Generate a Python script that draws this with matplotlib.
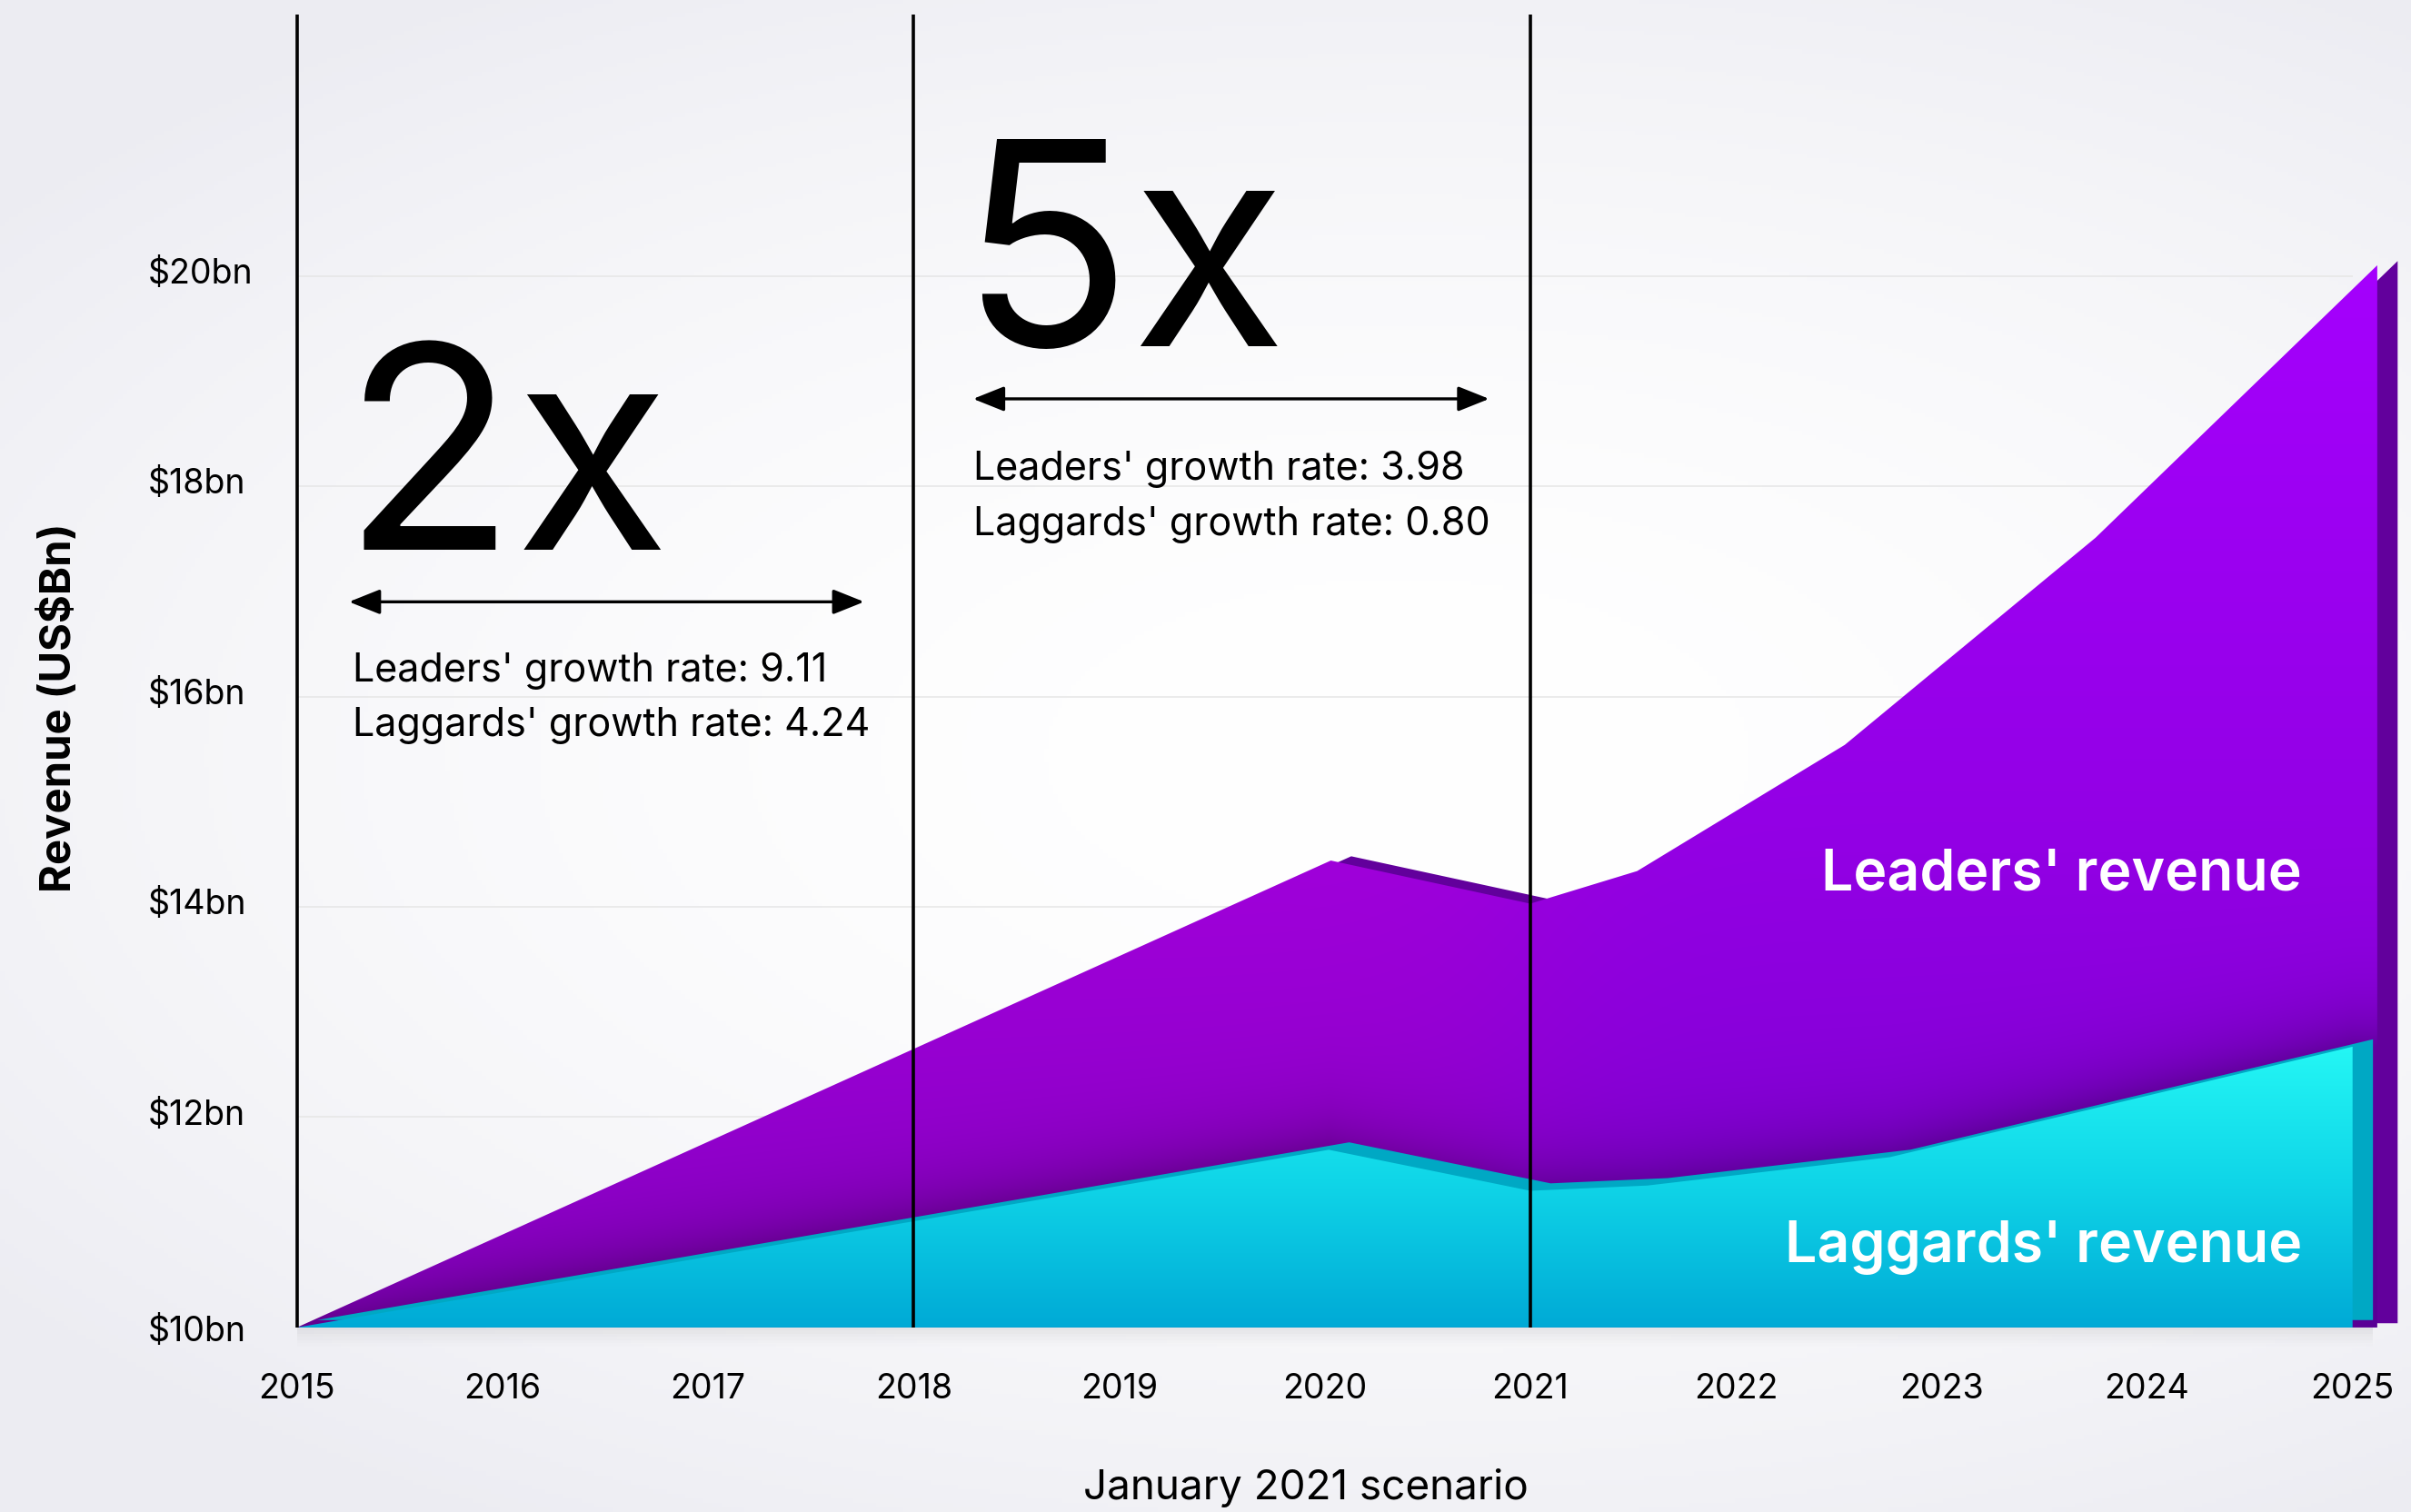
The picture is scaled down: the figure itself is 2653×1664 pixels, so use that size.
import numpy as np
import matplotlib
matplotlib.use('Agg')
import matplotlib.pyplot as plt
from matplotlib.transforms import ScaledTranslation

plt.rcParams['font.family'] = ['Inter', 'DejaVu Sans']

# ── data ──────────────────────────────
years = [2015, 2016, 2017, 2018, 2019, 2020, 2021, 2022, 2023, 2024, 2025]
y_ticks = [10, 12, 14, 16, 18, 20]
y_tick_labels = [r'\$10bn', r'\$12bn', r'\$14bn', r'\$16bn', r'\$18bn', r'\$20bn']

# top edge of each area (kinks as drawn in the original graphic)
leaders_x = [2015, 2020.03, 2021.0, 2021.52, 2022.53, 2023.75, 2025.12]
leaders_rev = [10.0, 14.44, 14.03, 14.34, 15.54, 17.51, 20.10]
laggards_x = [2015, 2020.02, 2021.0, 2021.57, 2022.75, 2025.0]
laggards_rev = [10.0, 11.69, 11.30, 11.35, 11.62, 12.67]

phase_lines = [2015, 2018, 2021]
BASE = 10
# ──────────────────────────────────────

fig = plt.figure(figsize=(26.53, 16.65), dpi=100)

# soft grey vignette behind everything
bg = fig.add_axes([0, 0, 1, 1], zorder=-5)
h, w = 333, 531
yy, xx = np.mgrid[0:1:h * 1j, 0:1:w * 1j]
dist = np.sqrt((xx - 0.58) ** 2 + ((yy - 0.5) / 0.8) ** 2)
t = np.clip(dist / 0.75, 0, 1) ** 1.8
edge = np.array([236, 236, 242]) / 255
bg_img = (1 - t)[..., None] * np.ones(3) + t[..., None] * edge
bg.imshow(bg_img, extent=[0, 1, 0, 1], aspect='auto', origin='lower')
bg.axis('off')

ax = fig.add_axes([0.11671, 0.12195, 0.88202, 0.86789], zorder=1)
ax.patch.set_visible(False)
for s in ax.spines.values():
    s.set_visible(False)

XLIM = (2014.9252, 2025.2693)
YLIM = (10, 22.485)


def purple_fn(X, Y):
    ys = [10, 14.5, 20.5]
    r = np.interp(Y, ys, [124, 146, 166])
    b = np.interp(Y, ys, [208, 228, 255])
    left = 0.5 * (1 - np.tanh((X - 2021) / 0.6))
    r = r + 14 * left
    b = b - 10 * left
    d = np.clip(Y - np.interp(X, laggards_x, laggards_rev), 0, None)
    shade = 1 - 0.28 * np.exp(-d / 0.35)
    rgb = np.stack([r * shade, np.zeros_like(r), b * shade], -1) / 255
    return np.clip(rgb, 0, 1)


def cyan_fn(X, Y):
    ys = [10, 11.4, 12.8]
    r = np.interp(Y, ys, [0, 16, 38])
    g = np.interp(Y, ys, [170, 214, 250])
    b = np.interp(Y, ys, [214, 232, 246])
    return np.clip(np.stack([r, g, b], -1) / 255, 0, 1)


def gradient_area(xs, top, color_fn, z):
    poly = ax.fill_between(xs, BASE, top, facecolor='none', edgecolor='none')
    gx = np.linspace(2014.9, 2025.3, 700)
    gy = np.linspace(9.9, 21.0, 500)
    GX, GY = np.meshgrid(gx, gy)
    im = ax.imshow(color_fn(GX, GY), extent=[gx[0], gx[-1], gy[0], gy[-1]],
                   origin='lower', aspect='auto', interpolation='bilinear', zorder=z)
    im.set_clip_path(poly.get_paths()[0], transform=ax.transData)


# grid
ax.hlines(y_ticks[1:], 2015, 2025, color='#e6e6e6', lw=1.1, zorder=0.5)

# leaders: depth face then front face
lx = np.array(leaders_x)
ly = np.array(leaders_rev)
ax.fill_between(lx + 0.097, BASE + 0.045, ly + 0.045, color='#62009c', lw=0, zorder=2)
gradient_area(lx, ly, purple_fn, 3)

# laggards: depth face then front face
gx_ = np.array(laggards_x)
gy_ = np.array(laggards_rev)
ax.fill_between(gx_ + 0.097, BASE + 0.075, gy_ + 0.075, color='#00a8c4', lw=0, zorder=4)
gradient_area(gx_, gy_, cyan_fn, 5)

# faint shadow under the base
for k, a in enumerate([0.035, 0.03, 0.025, 0.02, 0.015, 0.01]):
    ax.fill_between([2015, 2025.1], BASE - 0.03 * (k + 1), BASE, color='#888888',
                    alpha=a, lw=0, clip_on=False, zorder=0.8)

for xv in phase_lines:
    ax.axvline(xv, color='black', lw=2.6, zorder=6)

# arrows + annotations
arrow_kw = dict(arrowstyle='<|-|>,head_length=0.5,head_width=0.2', color='black',
                lw=2.4, mutation_scale=42, shrinkA=0, shrinkB=0)
ax.annotate('', xy=(2017.76, 16.90), xytext=(2015.254, 16.90), arrowprops=arrow_kw, zorder=7)
ax.annotate('', xy=(2020.80, 18.83), xytext=(2018.29, 18.83), arrowprops=arrow_kw, zorder=7)

ax.text(2015.22, 17.40, '2x', fontsize=225, ha='left', va='baseline', zorder=7)
ax.text(2018.22, 19.34, '5x', fontsize=225, ha='left', va='baseline', zorder=7)

ax.text(2015.27, 16.155, "Leaders' growth rate: 9.11", fontsize=31, va='baseline', zorder=7)
ax.text(2015.27, 15.63, "Laggards' growth rate: 4.24", fontsize=31, va='baseline', zorder=7)
ax.text(2018.29, 18.07, "Leaders' growth rate: 3.98", fontsize=31, va='baseline', zorder=7)
ax.text(2018.29, 17.54, "Laggards' growth rate: 0.80", fontsize=31, va='baseline', zorder=7)

ax.text(2024.753, 14.17, "Leaders' revenue", fontsize=45, color='white',
        fontweight='semibold', ha='right', va='baseline', zorder=7)
ax.text(2024.753, 10.63, "Laggards' revenue", fontsize=45, color='white',
        fontweight='semibold', ha='right', va='baseline', zorder=7)

ax.set_xlim(*XLIM)
ax.set_ylim(*YLIM)
ax.set_xticks(years)
ax.set_xticklabels([str(y) for y in years], fontsize=27)
ax.set_yticks(y_ticks)
ax.set_yticklabels(y_tick_labels, fontsize=27)
ax.tick_params(axis='both', length=0)
ax.tick_params(axis='y', pad=106)
ax.tick_params(axis='x', pad=35)
# labels sit a touch above their gridline, except the baseline one
lift = ScaledTranslation(0, 5 / 72, fig.dpi_scale_trans)
for i, lab in enumerate(ax.get_yticklabels()):
    lab.set_horizontalalignment('left')
    if i > 0:
        lab.set_transform(lab.get_transform() + lift)

ax.set_xlabel('January 2021 scenario', fontsize=33, va='center')
ax.xaxis.set_label_coords(0.4816, -0.1218)
ax.set_ylabel(r'Revenue (US\$Bn)', fontsize=34, fontweight='bold', va='center')
ax.yaxis.set_label_coords(-0.1045, 0.473)

fig.savefig('out.png', dpi=100)
